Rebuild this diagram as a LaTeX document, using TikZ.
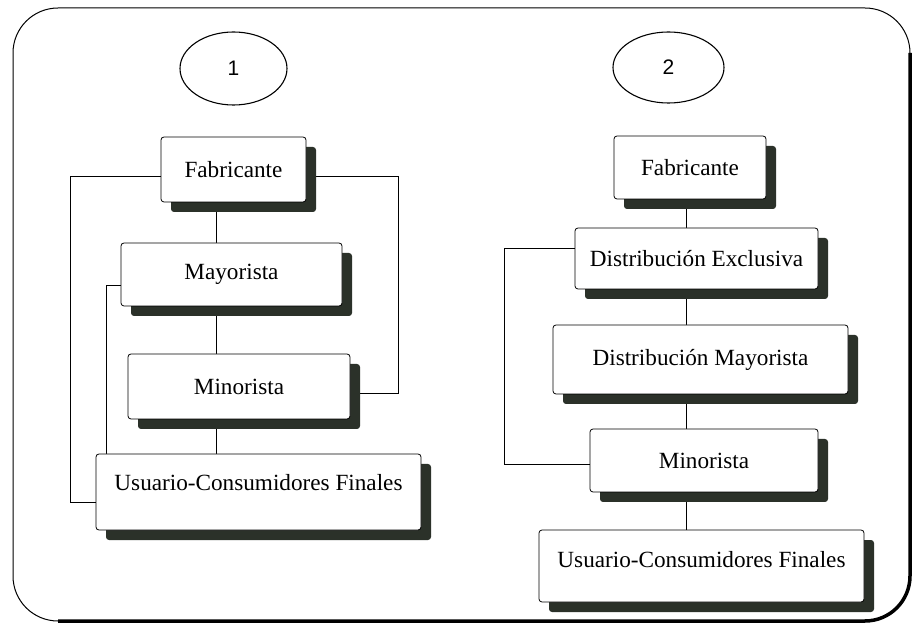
\documentclass[tikz,border=0pt]{standalone}
\usepackage{fontspec}
\setmainfont{Liberation Serif}
\newfontfamily\numfont{Liberation Sans}
\usetikzlibrary{shapes.geometric,shadows,backgrounds,calc}
\definecolor{boxshade}{HTML}{2B3129}
\tikzset{
 chanbox/.style={draw, fill=white, rounded corners=3pt, line width=.8pt, inner sep=0pt,
   font=\fontsize{23.2}{27}\selectfont,
   drop shadow={shadow xshift=10pt, shadow yshift=-10pt, fill=boxshade, opacity=1}},
 tag/.style={draw, ellipse, line width=1.1pt, inner sep=0pt, font=\numfont\fontsize{21}{25}\selectfont},
 link/.style={line width=.8pt}
}
\begin{document}
\begin{tikzpicture}[x=1pt,y=-1pt]
\useasboundingbox (0,0) rectangle (914,628);
% frame
\draw[line width=1pt, rounded corners=45pt] (13,8) rectangle (910,621);
\draw[line width=3.5pt, rounded corners=45pt] (58,621) -- (910,621) -- (910,53);

% channel 1
\node[tag, minimum width=107, minimum height=73] (e1) at (233.5,68.5) {1};
\node[chanbox, minimum width=145, minimum height=65] (fab1) at (233.5,169.5) {Fabricante};
\node[chanbox, minimum width=221, minimum height=63] (may1) at (231.5,274.5) {Mayorista};
\node[chanbox, minimum width=222, minimum height=65] (min1) at (239,386.5) {Minorista};
\node[chanbox, minimum width=325, minimum height=76, text depth=19pt] (usr1) at (258.5,492) {Usuario-Consumidores Finales};
\coordinate (spine1) at (216,0);

% channel 2
\node[tag, minimum width=111, minimum height=71] (e2) at (668.5,67.5) {2};
\node[chanbox, minimum width=152, minimum height=63] (fab2) at (690,167.5) {Fabricante};
\node[chanbox, minimum width=243, minimum height=61] (dex2) at (696.5,258.5) {Distribución Exclusiva};
\node[chanbox, minimum width=295, minimum height=69] (dma2) at (700.5,359.5) {Distribución Mayorista};
\node[chanbox, minimum width=228, minimum height=63] (min2) at (704,460.5) {Minorista};
\node[chanbox, minimum width=325, minimum height=72, text depth=13pt] (usr2) at (701.5,566) {Usuario-Consumidores Finales};
\coordinate (spine2) at (686,0);

\begin{scope}[on background layer]
\foreach \a/\b in {fab1/may1, may1/min1, min1/usr1}
 \draw[link] (\a.south -| spine1) -- (\b.north -| spine1);
\foreach \a/\b in {fab2/dex2, dex2/dma2, dma2/min2, min2/usr2}
 \draw[link] (\a.south -| spine2) -- (\b.north -| spine2);
\draw[link] ([yshift=-7pt]fab1.west) -- ++(-90,0) |- ([yshift=-10pt]usr1.west);
\draw[link] ([yshift=-7pt]fab1.east) -- ++(92,0) |- ([yshift=-7pt]min1.east);
\draw[link] ([yshift=-11pt]may1.west) -| ([xshift=11pt]usr1.north west);
\draw[link] ([yshift=10pt]dex2.west) -- ++(-70,0) |- ([yshift=-4pt]min2.west);
\end{scope}
\end{tikzpicture}
\end{document}
